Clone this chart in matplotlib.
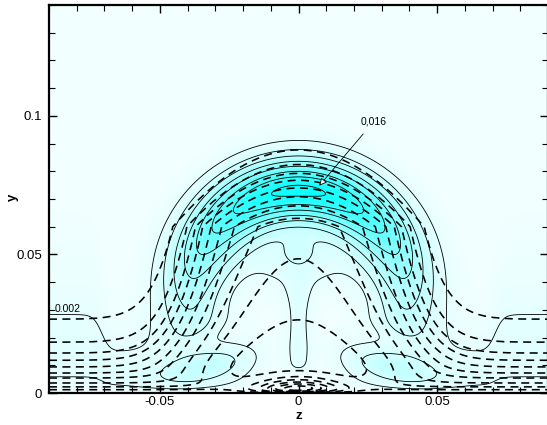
import numpy as np
import matplotlib
matplotlib.use("Agg")
import matplotlib.pyplot as plt
from matplotlib.colors import LinearSegmentedColormap
from matplotlib.ticker import MultipleLocator

plt.rcParams['font.family'] = ['Liberation Sans', 'DejaVu Sans']

# ---------------- axes ----------------
z_lim = [-0.09, 0.09]
y_lim = [0.0, 0.14]
z_ticks = [-0.05, 0.0, 0.05]
z_ticklabels = ["-0.05", "0", "0.05"]
y_ticks = [0.0, 0.05, 0.1]
y_ticklabels = ["0", "0.05", "0.1"]

# ---------------- contour levels ----------------
solid_levels = [0.002, 0.004, 0.006, 0.008, 0.010, 0.012, 0.014, 0.016]
dashed_levels = [1, 2, 3, 4, 5, 6, 7, 8, 9, 10]
# heights of the dashed lines far from the structure (read at the left edge)
dashed_far_heights = [0.0012, 0.0022, 0.0036, 0.0054, 0.0072, 0.0094, 0.0118, 0.0144, 0.0183, 0.0266]

# ---------------- solid / flooded field structure ----------------
cap_center = [0.0, 0.034]
cap_radius = 0.039
cap_peak = 0.0164
cap_width_outer = 0.0125
cap_width_inner = 0.0125
cap_angle_width = 1.6
cap_angle_cut = 1.95
wall_peak = 0.0027
wall_height = 0.0075
wall_gap_width = 0.022
edge_step_z = 0.071
edge_step_gain = 0.9
blob_z = [-0.033, 0.033]
blob_y = [0.0098, 0.0098]
blob_amp = [0.0034, 0.0034]
blob_tilt_deg = [13.5, -13.5]
blob_len = 0.0175
blob_thick = 0.0058
inner_fill = [0.0, 0.046, 0.020, 0.010, 0.0026]   # z, y, width z, width y, amplitude
notch_fill = [0.0, 0.051, 0.008, 0.006, 0.0018]
stem_amp = 0.0026
stem_halfwidth = 0.005
stem_bottom = 0.008
stem_top = 0.04

# ---------------- dashed field structure ----------------
u_lift = 21.0
u_lift_width = 0.027
u_lift_top = 0.06
u_lift_decay = 0.0125
u_lift_wall = 0.008
u_wall_bump = 6.0
u_wall_bump_width = 0.014
u_wall_bump_height = 0.0016


def gauss(Zg, Yg, p):
    return p[4] * np.exp(-((Zg - p[0]) / p[2]) ** 2 - ((Yg - p[1]) / p[3]) ** 2)


# ---------------- build fields ----------------
z = np.linspace(z_lim[0], z_lim[1], 721)
y = np.linspace(y_lim[0], y_lim[1], 561)
Z, Y = np.meshgrid(z, y)

dz = Z - cap_center[0]
dy = Y - cap_center[1]
R = np.hypot(dz, dy)
TH = np.arctan2(dz, dy)

amp = cap_peak * np.exp(-(TH / cap_angle_width) ** 2)
amp *= 0.5 * (1 - np.tanh((np.abs(TH) - cap_angle_cut) / 0.12))
w = np.where(R > cap_radius, cap_width_outer, cap_width_inner)
S = amp * np.exp(-((R - cap_radius) / w) ** 2)

wall_h = wall_height * (1 + edge_step_gain * 0.5 * (1 + np.tanh((np.abs(Z) - edge_step_z) / 0.003)))
eta = Y / wall_h
S += wall_peak * eta * np.exp(1 - eta) * (1 - np.exp(-(Z / wall_gap_width) ** 2))
for bz, by, ba, bt in zip(blob_z, blob_y, blob_amp, blob_tilt_deg):
    t = np.deg2rad(bt)
    a = (Z - bz) * np.cos(t) + (Y - by) * np.sin(t)
    b = -(Z - bz) * np.sin(t) + (Y - by) * np.cos(t)
    S += ba * np.exp(-(a / blob_len) ** 2 - (b / blob_thick) ** 2)
S += gauss(Z, Y, inner_fill)
S += gauss(Z, Y, notch_fill)
S += (stem_amp * np.exp(-(Z / stem_halfwidth) ** 2)
      * 0.5 * (1 + np.tanh((Y - stem_bottom) / 0.002))
      * 0.5 * (1 - np.tanh((Y - stem_top) / 0.005)))

V = np.exp(-np.maximum(Y - u_lift_top, 0) / u_lift_decay) * (1 - np.exp(-(Y / u_lift_wall) ** 2))
L = 1 + u_lift * V * np.exp(-(Z / u_lift_width) ** 2)
Y_eff = Y / L
h_pts = np.concatenate([[0.0], dashed_far_heights, [0.05, 0.2]])
u_pts = np.concatenate([[0.0], dashed_levels, [11.5, 13.0]])
U = np.interp(Y_eff.ravel(), h_pts, u_pts).reshape(Y.shape)
eb = Y / u_wall_bump_height
U += u_wall_bump * np.exp(-(Z / u_wall_bump_width) ** 2) * eb * np.exp(1 - eb)

# ---------------- figure ----------------
fig = plt.figure(figsize=(5.47, 4.25), dpi=100)
ax = fig.add_axes([49 / 547, 32 / 425, 499 / 547, 388 / 425])

colors = [(0.95, 1.0, 1.0), (0.86, 1.0, 1.0), (0.72, 1.0, 1.0), (0.52, 1.0, 1.0),
          (0.28, 1.0, 1.0), (0.0, 1.0, 1.0)]
cmap = LinearSegmentedColormap.from_list("cy", colors)
ax.contourf(Z, Y, S, levels=np.linspace(-0.002, 0.019, 90), cmap=cmap,
            vmin=0.0, vmax=0.017, extend='both')
ax.contour(Z, Y, S, levels=solid_levels, colors='black', linewidths=0.6)
ax.contour(Z, Y, U, levels=dashed_levels, colors='black', linewidths=1.15,
           linestyles=[(0, (5.0, 3.4))])

ax.annotate("0,016", xy=(0.0075, 0.0748), xytext=(0.027, 0.0978),
            textcoords='data', ha='center', va='center', fontsize=7.5,
            arrowprops=dict(arrowstyle='-|>', fc='white', ec='black', lw=0.6,
                            mutation_scale=11, shrinkA=4, shrinkB=0))
ax.text(-0.0834, 0.0303, "0.002", ha='center', va='center', fontsize=7.5)

ax.set_xlim(z_lim)
ax.set_ylim(y_lim)
ax.set_xticks(z_ticks)
ax.set_xticklabels(z_ticklabels)
ax.set_yticks(y_ticks)
ax.set_yticklabels(y_ticklabels)
ax.xaxis.set_minor_locator(MultipleLocator(0.01))
ax.yaxis.set_minor_locator(MultipleLocator(0.01))
ax.tick_params(which='both', direction='in', top=True, right=True, labelsize=9.5)
ax.tick_params(axis='x', which='both', pad=2)
ax.tick_params(axis='y', which='both', pad=5)
ax.tick_params(which='major', length=6, width=1.0)
ax.tick_params(which='minor', length=4, width=0.8)
for sp in ax.spines.values():
    sp.set_linewidth(1.6)

fig.text(299 / 547, 1 - 416 / 425, "z", ha='center', va='center', fontsize=9.5, fontweight='bold')
fig.text(13 / 547, 1 - 197 / 425, "y", ha='center', va='center', fontsize=9.5,
         fontweight='bold', rotation=90)

fig.savefig("out.png", dpi=100)
